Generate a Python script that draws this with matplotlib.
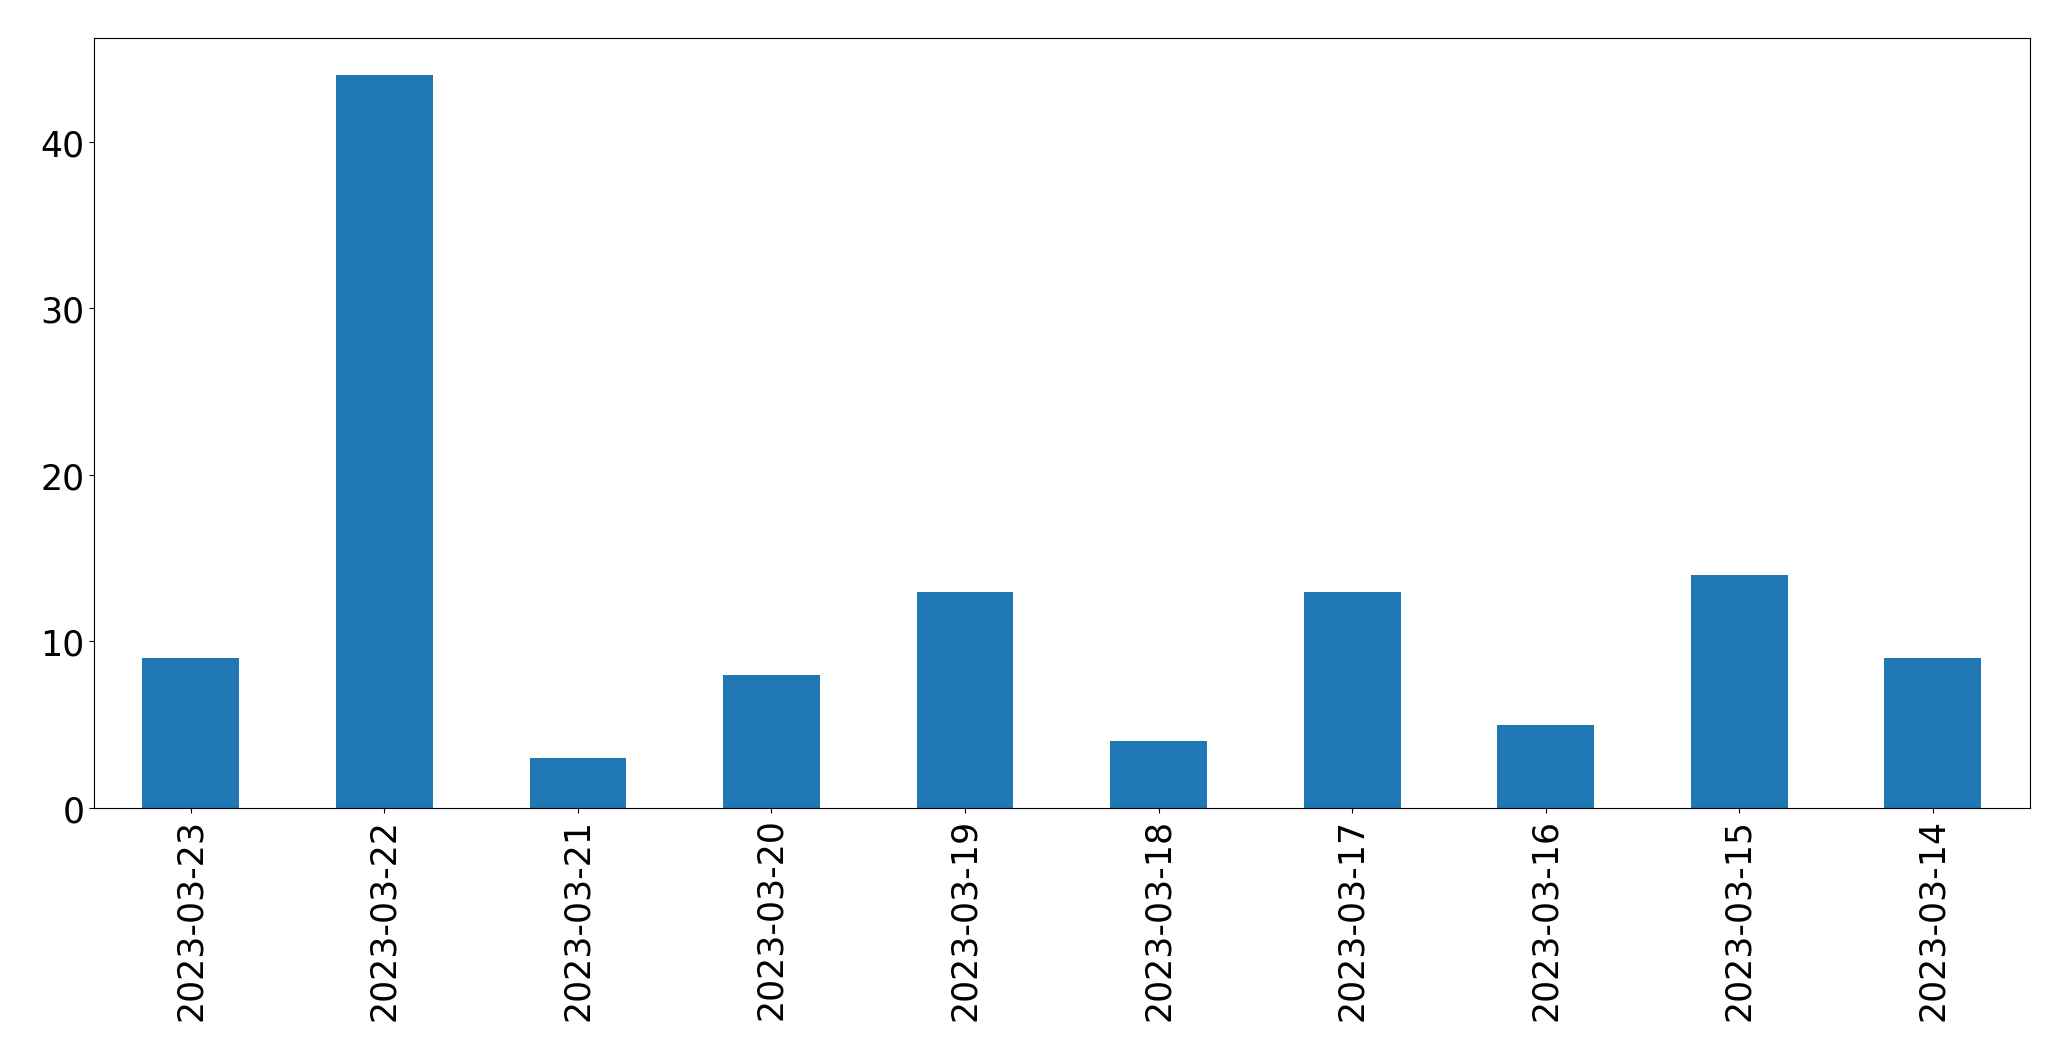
import matplotlib
matplotlib.use("Agg")
import matplotlib.pyplot as plt
import pandas as pd

dates = ["2023-03-23", "2023-03-22", "2023-03-21", "2023-03-20", "2023-03-19",
         "2023-03-18", "2023-03-17", "2023-03-16", "2023-03-15", "2023-03-14"]
counts = [9, 44, 3, 8, 13, 4, 13, 5, 14, 9]

s = pd.Series(counts, index=dates)

fig = plt.figure(figsize=(20.71, 10.608), dpi=100)
ax = fig.add_subplot(111)
s.plot(kind="bar", ax=ax, color="#1f77b4", fontsize=25)
ax.set_xlabel("")
fig.subplots_adjust(left=0.0454, right=0.980, top=0.963, bottom=0.2375)
fig.savefig("out.png", dpi=100)
